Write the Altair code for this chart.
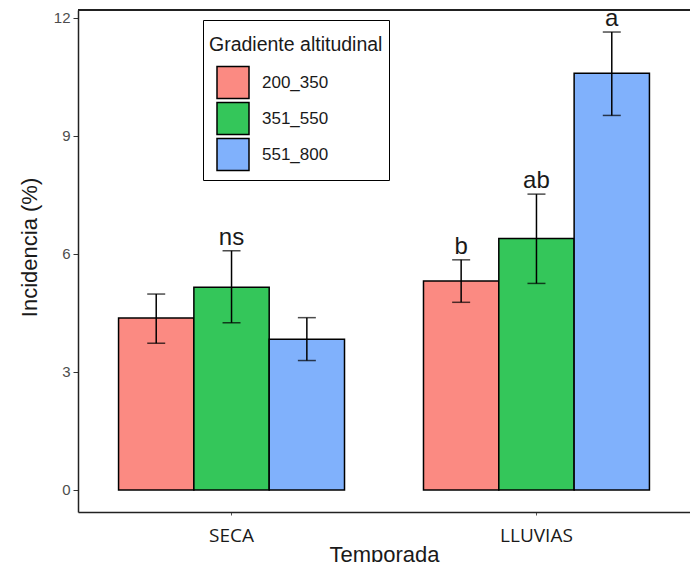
import altair as alt
import pandas as pd

temporada = ["SECA", "SECA", "SECA", "LLUVIAS", "LLUVIAS", "LLUVIAS"]
gradiente = ["200_350", "351_550", "551_800", "200_350", "351_550", "551_800"]
media = [4.37, 5.15, 3.83, 5.31, 6.39, 10.59]
err_lo = [3.73, 4.25, 3.29, 4.77, 5.25, 9.52]
err_hi = [4.98, 6.08, 4.38, 5.85, 7.52, 11.64]
letras = ["", "ns", "", "b", "ab", "a"]

categorias = ["SECA", "LLUVIAS"]
grupos = ["200_350", "351_550", "551_800"]
colores = ["#fb8a82", "#34c65a", "#80b1fc"]
y_ticks = [0, 3, 6, 9, 12]

df = pd.DataFrame({
    "temporada": temporada,
    "gradiente": gradiente,
    "media": media,
    "lo": err_lo,
    "hi": err_hi,
    "letra": letras,
})

frame_color = "#222222"

x_enc = alt.X(
    "temporada:N",
    sort=categorias,
    scale=alt.Scale(paddingInner=0.259, paddingOuter=0.133),
    axis=alt.Axis(
        title="Temporada",
        labelAngle=0,
        labelFont="Open Sans",
        labelFontSize=19,
        labelColor="#1a1a1a",
        labelPadding=11,
        tickSize=3,
        tickColor="#555555",
        domain=True,
        domainColor=frame_color,
        domainWidth=1.5,
        grid=False,
        titleFont="Liberation Sans",
        titleFontSize=22,
        titleFontWeight="normal",
        titleColor="#1a1a1a",
        titleBaseline="alphabetic",
        titleX=306,
        titleY=49,
    ),
)
xoff_enc = alt.XOffset(
    "gradiente:N", sort=grupos, scale=alt.Scale(paddingInner=0, paddingOuter=0)
)
y_scale = alt.Scale(domain=[-0.56, 12.2], nice=False, zero=False)

base = alt.Chart(df).encode(x=x_enc, xOffset=xoff_enc)

bars = base.mark_bar(stroke="black", strokeWidth=1.5).encode(
    y=alt.Y(
        "media:Q",
        scale=y_scale,
        axis=alt.Axis(
            values=y_ticks,
            grid=False,
            domain=True,
            domainColor=frame_color,
            domainWidth=1.5,
            tickSize=5,
            tickColor="#333333",
            labelColor="#4d4d4d",
            labelFontSize=15,
            labelFont="Liberation Sans",
            labelPadding=3,
            title="Incidencia (%)",
            titleFont="Liberation Sans",
            titleFontSize=22,
            titleFontWeight="normal",
            titleColor="#1a1a1a",
            titleAngle=-90,
            titleX=-49,
            titleY=237,
            titleAlign="center",
            titleBaseline="middle",
        ),
    ),
    fill=alt.Fill(
        "gradiente:N",
        sort=grupos,
        scale=alt.Scale(domain=grupos, range=colores),
        legend=alt.Legend(
            title=["", "Gradiente altitudinal"],
            orient="none",
            legendX=125,
            legendY=10,
            padding=6,
            strokeColor="black",
            fillColor="white",
            titleFont="Liberation Sans",
            titleFontSize=19.5,
            titleFontWeight="normal",
            titleColor="#1a1a1a",
            titleLineHeight=10,
            titlePadding=10,
            labelFont="Liberation Sans",
            labelFontSize=17,
            labelColor="#1a1a1a",
            labelOffset=12,
            symbolType="square",
            symbolSize=1024,
            symbolStrokeColor="black",
            symbolStrokeWidth=1.5,
            symbolOpacity=1,
            symbolOffset=7,
            rowPadding=-6,
        ),
    ),
)

rules = base.mark_rule(color="black", strokeWidth=1.5).encode(
    y=alt.Y("lo:Q", scale=y_scale), y2="hi:Q"
)
cap_lo = base.mark_tick(color="black", size=18, thickness=1.5, orient="horizontal").encode(
    y=alt.Y("lo:Q", scale=y_scale)
)
cap_hi = base.mark_tick(color="black", size=18, thickness=1.5, orient="horizontal").encode(
    y=alt.Y("hi:Q", scale=y_scale)
)
labels = base.mark_text(
    dy=-6, baseline="alphabetic", fontSize=24, font="Liberation Sans", color="#1a1a1a"
).encode(y=alt.Y("hi:Q", scale=y_scale), text="letra:N")

top_border = alt.Chart(df).mark_rule(color=frame_color, strokeWidth=1.5).encode(
    x=alt.value(0), x2=alt.value(612), y=alt.value(0)
)

chart = (
    alt.layer(bars, rules, cap_lo, cap_hi, labels, top_border)
    .properties(
        width=612,
        height=502,
        padding={"left": 78, "top": 10, "right": 0, "bottom": 50},
        autosize=alt.AutoSizeParams(type="none"),
        background="white",
    )
    .configure_view(stroke=None)
)

chart.save("out.html", embed_options={"renderer": "svg", "actions": False})
